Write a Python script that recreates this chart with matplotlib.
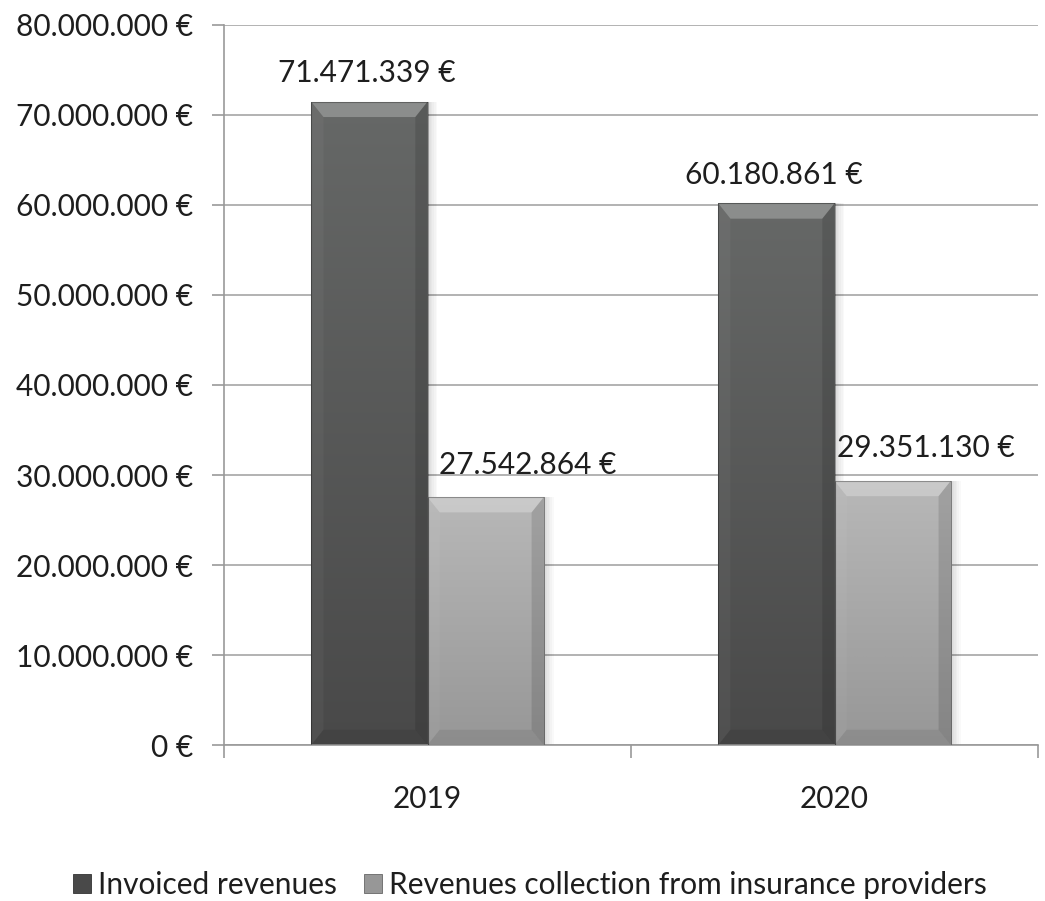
import numpy as np
import matplotlib
matplotlib.use("Agg")
import matplotlib.pyplot as plt
from matplotlib.patches import Polygon
from matplotlib.ticker import FuncFormatter

plt.rcParams['font.family'] = ['Lato', 'DejaVu Sans']

# revenue per year
years = ["2019", "2020"]
invoiced = [71471339, 60180861]
collected = [27542864, 29351130]
series_names = ["Invoiced revenues", "Revenues collection from insurance providers"]

# top/bottom colours for the vertical gradient of each series
dark_top, dark_bot = np.array([0x66, 0x68, 0x67]) / 255, np.array([0x49, 0x49, 0x49]) / 255
light_top, light_bot = np.array([0xb8, 0xb8, 0xb8]) / 255, np.array([0x97, 0x97, 0x97]) / 255

FS = 21.5
TXT = '#1e1e1e'


def euro(v, pos=None):
    return "{:,.0f} €".format(v).replace(",", ".")


def shaded_bar(ax, x0, w, h, top, bot):
    # gradient body, bottom row first
    grad = np.linspace(0, 1, 256)[:, None, None]
    img = bot[None, None, :] * (1 - grad) + top[None, None, :] * grad
    im = ax.imshow(img, extent=(x0, x0 + w, 0, h), origin='lower', aspect='auto',
                   interpolation='bicubic', zorder=2)
    rect = plt.Rectangle((x0, 0), w, h, transform=ax.transData)
    im.set_clip_path(rect)
    # soft shadow on the right
    for k in range(6):
        ax.add_patch(plt.Rectangle((x0 + w, 0), 0.004 * (k + 1), h, fc='black',
                                   alpha=0.025, lw=0, zorder=1.9))
    # bevel around the edges
    bx, by = 0.03, 1.7e6
    by = min(by, h * 0.3)
    bevels = [
        ([(x0, h), (x0 + w, h), (x0 + w - bx, h - by), (x0 + bx, h - by)], 'white', 0.25),
        ([(x0, 0), (x0, h), (x0 + bx, h - by), (x0 + bx, by)], 'white', 0.04),
        ([(x0 + w, 0), (x0 + w, h), (x0 + w - bx, h - by), (x0 + w - bx, by)], 'black', 0.12),
        ([(x0, 0), (x0 + w, 0), (x0 + w - bx, by), (x0 + bx, by)], 'black', 0.07),
    ]
    for pts, c, a in bevels:
        ax.add_patch(Polygon(pts, closed=True, facecolor=c, alpha=a, lw=0, zorder=3))
    ax.add_patch(plt.Rectangle((x0, 0), w, h, fill=False, ec=(0, 0, 0, 0.3),
                               lw=0.8, zorder=4))


fig = plt.figure(figsize=(10.45, 9.01), dpi=100)
ax = fig.add_axes([0.2144, 0.1731, 0.7789, 0.7992])

x = np.arange(len(years))
w = 1 / 3.5
# the labels of the lighter bars sit a little to the right
light_dx = [30, 24]
for i in range(len(years)):
    shaded_bar(ax, x[i] - w, w, invoiced[i], dark_top, dark_bot)
    shaded_bar(ax, x[i], w, collected[i], light_top, light_bot)
    ax.annotate(euro(invoiced[i]), (x[i] - w / 2, invoiced[i]), xytext=(-2, 14),
                textcoords='offset points', ha='center', va='baseline', fontsize=FS, color=TXT)
    ax.annotate(euro(collected[i]), (x[i] + w / 2, collected[i]), xytext=(light_dx[i], 17),
                textcoords='offset points', ha='center', va='baseline', fontsize=FS, color=TXT)

ax.set_xlim(-0.5, 1.5)
ax.set_ylim(0, 80e6)
ax.set_yticks(np.arange(0, 80e6 + 1, 10e6))
ax.yaxis.set_major_formatter(FuncFormatter(euro))
ax.set_xticks([-0.5, 0.5, 1.5])
ax.set_xticklabels([])
ax.set_xticks(x, minor=True)
ax.set_xticklabels(years, minor=True)
ax.tick_params(axis='x', which='minor', length=0, pad=29, labelsize=FS, labelcolor=TXT)
ax.tick_params(axis='x', which='major', length=9, width=1.2, color='#999999')
ax.tick_params(axis='y', length=9, width=1.2, color='#999999', pad=13, labelsize=FS,
               labelcolor=TXT)
ax.grid(axis='y', color='#a6a6a6', lw=1.2, zorder=0)
ax.set_axisbelow(True)
for s in ['top', 'right']:
    ax.spines[s].set_visible(False)
for s in ['left', 'bottom']:
    ax.spines[s].set_color('#999999')
    ax.spines[s].set_linewidth(1.2)

handles = [plt.Rectangle((0, 0), 1, 1, fc=dark_bot, ec='#333333', lw=0.6),
           plt.Rectangle((0, 0), 1, 1, fc=light_bot, ec='#666666', lw=0.6)]
fig.legend(handles, series_names, loc='center', bbox_to_anchor=(0.507, 0.018),
           ncol=2, frameon=False, fontsize=FS, handlelength=0.6, handleheight=0.6,
           handletextpad=0.25, columnspacing=0.9, labelcolor=TXT)

fig.savefig("out.png", dpi=100)
